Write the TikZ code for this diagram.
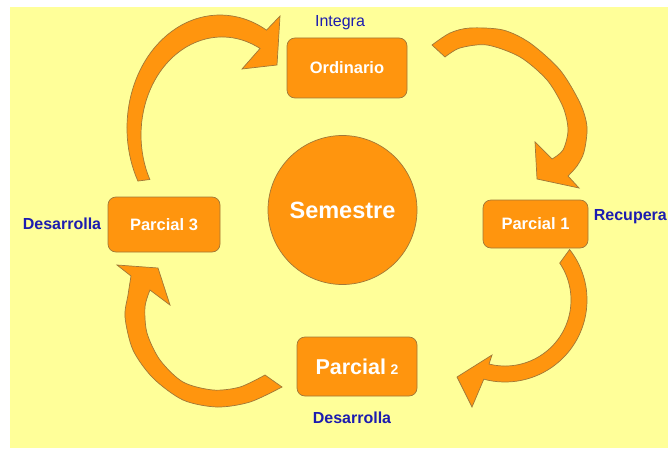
\documentclass[tikz,border=0pt]{standalone}
\usepackage{fontspec}
\setmainfont{Liberation Sans}
\usetikzlibrary{positioning,calc}

\definecolor{paper}{HTML}{FFFF99}
\definecolor{boxfill}{HTML}{FF950E}
\definecolor{boxline}{HTML}{A07838}
\definecolor{labelblue}{HTML}{1C1CB0}

\tikzset{
    stagebox/.style={rectangle, rounded corners=8pt, fill=boxfill, draw=boxline,
        line width=0.7pt, text=white, inner sep=0pt,
        font=\fontsize{16.5}{19}\selectfont\bfseries},
    hub/.style={circle, fill=boxfill, draw=boxline, line width=0.7pt,
        minimum size=149pt, inner sep=0pt, text=white,
        font=\fontsize{23.5}{27}\selectfont\bfseries},
    tag/.style={text=labelblue, font=\fontsize{16}{19}\selectfont\bfseries},
    bigarrow/.style={fill=boxfill, draw=boxline, line width=0.7pt}
}

\begin{document}
\begin{tikzpicture}[x=1pt, y=1pt]
    % Page and background
    \useasboundingbox (0,0) rectangle (668,448);
    \fill[paper] (10,0) rectangle (668,441);

    % Centre
    \node[hub] (sem) at (342.5,238) {Semestre};

    % Stages
    \node[stagebox, minimum width=120pt, minimum height=60pt] (ord) at (347,380) {Ordinario};
    \node[stagebox, minimum width=105pt, minimum height=48pt] (p1) at (535.5,224) {Parcial 1};
    \node[stagebox, minimum width=120pt, minimum height=59pt] (p2) at (357,81.5)
        {{\fontsize{21.5}{24}\selectfont Parcial} {\fontsize{14}{16}\selectfont 2}};
    \node[stagebox, minimum width=112pt, minimum height=55pt] (p3) at (164,223.5) {Parcial 3};

    % Labels
    \node[tag, font=\fontsize{16}{19}\selectfont] (integ) [above=4pt of ord, xshift=-7pt] {Integra};
    \node[tag, anchor=west] (recup) at ([xshift=2pt, yshift=7pt]p1.east) {Recupera};
    \node[tag] (desa2) [below=12pt of p2, xshift=-5pt] {Desarrolla};
    \node[tag] (desa3) [left=3pt of p3, yshift=1pt] {Desarrolla};

    % Arrow: Parcial 3 -> Ordinario
    \filldraw[bigarrow]
    ($(220,320)+(208:93 and 113)$)
    arc[start angle=208, end angle=60, x radius=93, y radius=113]
    -- (280,432) -- (277,383) -- (242,379)
    -- ($(222,313)+(62:81 and 98)$)
    arc[start angle=62, end angle=207, x radius=81, y radius=98]
    -- cycle;

    % Arrow: Ordinario -> Parcial 1
    \filldraw[bigarrow]
    plot[smooth]
    coordinates {
    (432,403) (450,415) (470,420) (503,418) (530,405)
    (560,378) (580,345) (587,321) (584,296) (577,282) (568,272)
    }
    -- (579,260) -- (537,269) -- (535,306)
    -- plot[smooth]
    coordinates {
    (552,289) (563,298) (568,318) (563,341) (547,368)
    (520,391) (487,403) (460,400) (445,391)
    }
    -- cycle;

    % Arrow: Parcial 1 -> Parcial 2
    \filldraw[bigarrow]
    ($(505,148)+(38:82)$)
    arc[start angle=38, end angle=-105, radius=82]
    -- (472,41) -- (457,71) -- (492,93)
    -- ($(505,148)+(-104:66)$)
    arc[start angle=-104, end angle=34, radius=66]
    -- cycle;

    % Arrow: Parcial 2 -> Parcial 3
    \filldraw[bigarrow]
    plot[smooth]
    coordinates {
    (282,61) (250,46) (217,41) (183,48) (153,70)
    (133,98) (125,131) (128,153) (131,172)
    }
    -- (117,183) -- (158,180) -- (170,143)
    -- plot[smooth]
    coordinates {
    (150,158) (145,141) (147,115) (160,88) (183,66)
    (213,58) (240,61) (265,73)
    }
    -- cycle;
\end{tikzpicture}
\end{document}
